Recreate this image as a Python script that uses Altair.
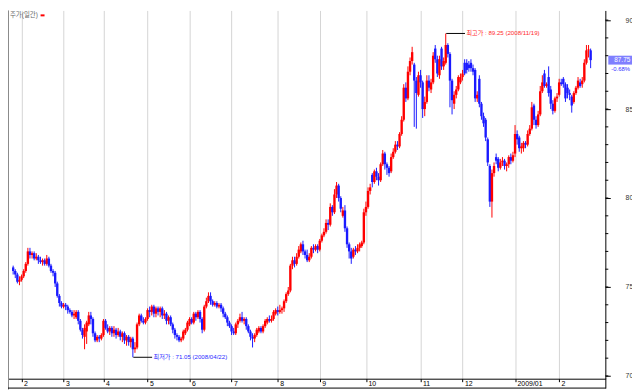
import altair as alt
import pandas as pd

# ---------------- data ----------------
day_idx = list(range(276))
opens = [
    76.1, 75.9, 75.7, 75.3, 75.4, 75.6, 75.9, 76.3, 77.0, 76.8,
    76.9, 76.6, 76.7, 76.5, 76.4, 76.5, 76.3, 76.6, 76.2, 75.9,
    75.8, 75.2, 74.5, 74.1, 73.9, 74.0, 73.9, 73.7, 73.6, 73.4,
    73.3, 73.6, 73.1, 72.6, 72.2, 72.5, 72.9, 73.4, 73.2, 72.4,
    72.0, 72.2, 72.1, 72.3, 73.1, 72.7, 72.5, 72.7, 72.4, 72.6,
    72.3, 72.5, 72.2, 72.4, 72.0, 72.2, 71.9, 72.1, 71.5, 71.6,
    72.9, 73.4, 73.1, 73.0, 73.2, 73.7, 73.6, 73.9, 73.5, 73.8,
    73.6, 73.8, 73.4, 73.5, 73.1, 73.3, 72.9, 72.6, 72.3, 72.2,
    72.0, 72.1, 72.4, 72.6, 72.9, 73.2, 73.0, 73.5, 73.3, 73.6,
    73.2, 72.6, 73.9, 74.2, 74.5, 74.2, 74.0, 74.1, 73.9, 74.0,
    73.8, 73.5, 73.3, 73.0, 72.8, 72.5, 72.4, 72.9, 73.1, 73.3,
    73.1, 73.2, 72.8, 72.5, 72.2, 72.1, 72.3, 72.5, 72.7, 72.5,
    72.8, 73.0, 73.2, 73.1, 73.2, 73.5, 73.7, 73.6, 73.7, 73.8,
    74.2, 74.6, 74.8, 76.2, 76.5, 76.3, 76.7, 77.0, 77.4, 77.0,
    76.8, 76.5, 76.7, 77.2, 77.1, 77.3, 77.1, 77.6, 77.9, 78.1,
    78.6, 78.5, 79.5, 79.2, 80.2, 80.7, 80.0, 79.0, 79.3, 78.3,
    77.4, 77.0, 76.7, 77.1, 77.0, 77.2, 77.3, 77.5, 79.2, 79.5,
    80.4, 81.3, 80.9, 81.5, 81.2, 81.0, 81.9, 82.5, 81.9, 81.7,
    81.5, 82.3, 82.6, 83.0, 82.9, 83.6, 84.4, 86.2, 85.6, 87.1,
    87.7, 87.5, 86.6, 85.8, 86.9, 86.5, 85.0, 85.4, 86.6, 86.1,
    86.5, 88.4, 87.8, 86.9, 88.4, 87.4, 87.6, 88.6, 88.1, 86.6,
    85.3, 85.8, 86.1, 86.5, 86.8, 87.6, 87.6, 87.5, 87.6, 87.3,
    87.2, 85.6, 86.7, 85.3, 84.6, 84.4, 83.3, 81.8, 79.8, 81.4,
    82.3, 82.2, 81.7, 82.0, 82.1, 81.8, 81.9, 82.3, 82.1, 82.5,
    83.6, 83.4, 82.8, 82.8, 83.1, 83.0, 83.6, 83.9, 85.2, 84.4,
    84.1, 84.7, 86.0, 87.0, 86.3, 86.8, 86.1, 85.3, 84.9, 85.6,
    85.8, 86.5, 86.7, 86.4, 86.2, 85.9, 85.7, 85.4, 85.9, 86.2,
    86.5, 86.4, 86.6, 87.6, 88.3, 88.3,
]
highs = [
    76.2, 76.0, 75.8, 75.6, 75.7, 76.0, 76.4, 77.2, 77.2, 77.0,
    77.0, 76.9, 76.8, 76.7, 76.6, 76.6, 76.8, 76.7, 76.3, 76.0,
    75.9, 75.3, 74.6, 74.2, 74.1, 74.1, 74.0, 73.8, 73.7, 73.7,
    73.7, 73.7, 73.2, 72.7, 72.9, 73.1, 73.6, 73.6, 73.3, 72.5,
    72.3, 72.3, 72.4, 73.2, 73.2, 72.9, 72.8, 72.8, 72.8, 72.7,
    72.7, 72.6, 72.5, 72.5, 72.3, 72.3, 72.2, 72.2, 71.9, 73.0,
    73.5, 73.5, 73.3, 73.3, 73.8, 73.9, 74.0, 74.0, 73.9, 73.9,
    73.9, 73.9, 73.7, 73.6, 73.4, 73.4, 73.0, 72.7, 72.4, 72.3,
    72.2, 72.6, 72.7, 73.1, 73.3, 73.3, 73.6, 73.6, 73.7, 73.7,
    73.3, 74.0, 74.4, 74.7, 74.7, 74.3, 74.2, 74.2, 74.1, 74.1,
    73.9, 73.6, 73.4, 73.1, 72.9, 72.7, 73.0, 73.2, 73.5, 73.6,
    73.3, 73.3, 72.9, 72.6, 72.4, 72.4, 72.7, 72.8, 72.8, 72.9,
    73.2, 73.3, 73.4, 73.4, 73.7, 73.8, 73.9, 74.0, 73.9, 74.3,
    74.7, 75.0, 76.3, 76.7, 76.7, 76.9, 77.3, 77.5, 77.6, 77.1,
    77.1, 76.9, 77.3, 77.4, 77.4, 77.4, 77.7, 78.0, 78.3, 78.8,
    78.8, 79.7, 79.6, 80.5, 80.9, 80.8, 80.1, 79.5, 79.6, 78.4,
    77.5, 77.2, 77.2, 77.3, 77.4, 77.5, 77.6, 79.4, 79.8, 80.6,
    80.8, 81.4, 81.6, 81.7, 81.4, 82.0, 82.7, 82.6, 82.0, 81.8,
    82.5, 82.8, 83.2, 83.2, 83.7, 84.6, 86.4, 86.5, 87.4, 87.9,
    88.5, 87.6, 86.8, 87.1, 87.2, 86.6, 85.7, 86.9, 86.9, 86.7,
    88.2, 88.6, 88.0, 88.0, 88.5, 87.9, 89.25, 88.7, 88.2, 86.7,
    86.0, 86.3, 86.9, 87.0, 87.2, 87.8, 87.8, 87.7, 87.8, 87.5,
    87.3, 86.0, 86.9, 85.4, 84.8, 84.5, 83.4, 81.9, 81.6, 82.0,
    82.5, 82.3, 82.2, 82.3, 82.2, 82.0, 82.4, 82.5, 82.6, 84.1,
    83.8, 83.5, 83.1, 83.2, 83.2, 83.8, 84.1, 85.4, 85.3, 84.6,
    84.9, 86.3, 86.9, 87.2, 86.5, 87.4, 86.3, 85.5, 85.7, 85.9,
    86.7, 86.7, 86.8, 86.5, 86.4, 86.1, 85.8, 86.0, 86.3, 86.8,
    86.7, 86.8, 87.8, 88.6, 88.6, 88.4,
]
lows = [
    75.7, 75.5, 75.2, 75.1, 75.3, 75.5, 75.8, 76.2, 76.6, 76.6,
    76.5, 76.5, 76.3, 76.3, 76.2, 76.2, 76.2, 76.1, 75.8, 75.6,
    75.0, 74.4, 73.9, 73.8, 73.8, 73.7, 73.5, 73.5, 73.3, 73.2,
    73.2, 72.9, 72.5, 72.1, 71.5, 71.8, 72.8, 72.9, 72.2, 71.9,
    71.9, 71.9, 72.0, 72.2, 72.6, 72.4, 72.3, 72.2, 72.2, 72.1,
    72.2, 72.0, 71.9, 71.8, 71.7, 71.7, 71.6, 71.05, 71.3, 71.5,
    72.8, 73.0, 72.9, 72.9, 73.1, 73.3, 73.4, 73.3, 73.3, 73.4,
    73.3, 73.2, 73.2, 72.9, 72.9, 72.8, 72.4, 72.1, 72.0, 71.9,
    71.9, 72.0, 72.3, 72.5, 72.8, 72.9, 72.9, 73.1, 73.2, 73.0,
    72.4, 72.5, 73.8, 74.1, 74.0, 73.9, 73.9, 73.8, 73.8, 73.6,
    73.3, 73.2, 72.8, 72.7, 72.3, 72.3, 72.3, 72.7, 73.0, 73.0,
    72.9, 72.6, 72.4, 72.0, 71.6, 71.9, 72.2, 72.4, 72.4, 72.4,
    72.7, 72.9, 73.0, 73.0, 73.1, 73.4, 73.4, 73.5, 73.5, 73.6,
    74.1, 74.5, 74.7, 76.0, 76.1, 76.2, 76.6, 76.9, 76.8, 76.6,
    76.4, 76.4, 76.6, 76.9, 77.0, 76.9, 77.0, 77.5, 77.8, 78.0,
    78.2, 78.4, 79.0, 79.1, 80.0, 79.8, 79.2, 78.9, 78.1, 77.2,
    76.6, 76.3, 76.6, 76.8, 76.9, 77.0, 77.2, 77.4, 79.0, 79.4,
    80.2, 80.6, 80.8, 81.0, 80.7, 80.9, 81.8, 81.6, 81.3, 81.2,
    81.4, 82.2, 82.5, 82.7, 82.8, 83.5, 84.3, 85.4, 85.5, 86.9,
    87.5, 84.0, 83.9, 85.7, 86.2, 84.5, 84.6, 85.3, 86.0, 85.9,
    86.4, 87.6, 86.8, 86.7, 87.2, 87.2, 87.5, 87.9, 85.1, 84.7,
    85.0, 85.6, 86.0, 86.4, 86.6, 86.9, 87.0, 87.1, 87.1, 86.9,
    85.4, 85.4, 85.1, 84.4, 84.0, 83.2, 81.8, 79.5, 78.9, 81.2,
    81.9, 81.5, 81.6, 81.8, 81.6, 81.5, 81.7, 81.9, 82.0, 82.3,
    83.0, 82.6, 82.5, 82.6, 82.8, 82.9, 83.5, 83.8, 84.1, 83.9,
    84.0, 84.6, 85.9, 86.2, 86.2, 85.7, 85.0, 84.7, 84.8, 85.4,
    85.7, 86.3, 86.2, 85.4, 85.6, 85.5, 84.8, 85.3, 85.8, 86.1,
    86.2, 86.2, 86.5, 87.5, 87.9, 87.3,
]
closes = [
    75.9, 75.7, 75.3, 75.4, 75.6, 75.9, 76.3, 77.0, 76.8, 76.9,
    76.6, 76.7, 76.5, 76.4, 76.5, 76.3, 76.6, 76.2, 75.9, 75.8,
    75.2, 74.5, 74.1, 73.9, 74.0, 73.9, 73.7, 73.6, 73.4, 73.5,
    73.6, 73.1, 72.6, 72.3, 72.7, 73.0, 73.4, 73.2, 72.4, 72.0,
    72.2, 72.1, 72.3, 73.1, 72.7, 72.5, 72.7, 72.4, 72.6, 72.3,
    72.5, 72.2, 72.4, 72.0, 72.2, 71.9, 72.1, 71.5, 71.6, 72.9,
    73.4, 73.1, 73.0, 73.2, 73.7, 73.6, 73.9, 73.5, 73.8, 73.6,
    73.8, 73.4, 73.5, 73.1, 73.3, 72.9, 72.6, 72.3, 72.2, 72.0,
    72.1, 72.5, 72.6, 73.0, 73.2, 73.0, 73.5, 73.3, 73.6, 73.2,
    72.6, 73.9, 74.2, 74.5, 74.2, 74.0, 74.1, 73.9, 74.0, 73.8,
    73.5, 73.3, 73.0, 72.8, 72.5, 72.4, 72.9, 73.1, 73.3, 73.1,
    73.2, 72.8, 72.5, 72.2, 72.1, 72.3, 72.6, 72.7, 72.5, 72.8,
    73.1, 73.2, 73.1, 73.2, 73.6, 73.7, 73.6, 73.7, 73.8, 74.2,
    74.6, 74.8, 76.2, 76.5, 76.3, 76.7, 77.1, 77.4, 77.0, 76.8,
    76.5, 76.7, 77.2, 77.1, 77.3, 77.1, 77.6, 77.9, 78.1, 78.6,
    78.5, 79.5, 79.2, 80.2, 80.7, 80.0, 79.4, 79.3, 78.3, 77.4,
    77.0, 76.6, 77.1, 77.0, 77.2, 77.4, 77.5, 79.2, 79.5, 80.4,
    80.6, 80.9, 81.5, 81.2, 81.0, 81.9, 82.5, 81.9, 81.7, 81.4,
    82.3, 82.6, 83.0, 82.9, 83.6, 84.4, 86.2, 85.6, 87.1, 87.7,
    88.2, 86.6, 85.9, 86.9, 86.5, 85.0, 85.4, 86.6, 86.2, 86.5,
    88.0, 87.8, 87.0, 87.8, 87.4, 87.7, 88.6, 88.1, 86.6, 85.5,
    85.8, 86.1, 86.8, 86.8, 87.0, 87.0, 87.2, 87.3, 87.3, 87.1,
    85.6, 85.8, 85.3, 84.6, 84.2, 83.4, 82.0, 79.8, 81.4, 81.8,
    82.1, 81.7, 82.0, 82.1, 81.8, 81.9, 82.3, 82.1, 82.4, 83.6,
    83.3, 82.8, 82.9, 83.1, 83.0, 83.6, 83.9, 85.1, 84.4, 84.1,
    84.7, 86.0, 86.5, 86.3, 86.4, 85.9, 85.3, 84.9, 85.6, 85.7,
    86.5, 86.4, 86.4, 85.6, 85.9, 85.8, 85.2, 85.9, 86.2, 86.6,
    86.3, 86.6, 87.6, 88.3, 88.35, 87.75,
]

month_idx = [4, 24, 43, 64, 84, 104, 126, 146, 168, 194, 214, 239, 260]
month_lbl = ["2", "3", "4", "5", "6", "7", "8", "9", "10", "11", "12", "2009/01", "2"]

y_major = [70, 75, 80, 85, 90]
y_minor = list(range(70, 91))

ann_idx = [206, 57]
ann_price = [89.25, 71.05]
ann_text = ["최고가 : 89.25 (2008/11/19)", "최저가 : 71.05 (2008/04/22)"]
ann_color = ["#ff2a2a", "#2a2aff"]

last_idx = [275]
last_price = [87.75]
last_text = ["87.75"]
last_pct = ["-0.68%"]

legend_label = ["주가(일간)"]

# ---------------- chart ----------------
FONT = "Liberation Sans, Noto Sans CJK KR, sans-serif"
W, H = 605, 373

df = pd.DataFrame({"i": day_idx, "o": opens, "h": highs, "l": lows, "c": closes})
df["dir"] = ["up" if c >= o else "down" for o, c in zip(opens, closes)]

xs = alt.Scale(domain=[-0.11, 279.65], nice=False, zero=False)
ys = alt.Scale(domain=[69.845, 90.544], nice=False, zero=False)

label_expr = "".join(f"datum.value == {v} ? '{t}' : " for v, t in zip(month_idx, month_lbl)) + "''"

ax_x = alt.Axis(values=month_idx, labelExpr=label_expr, title=None, grid=True,
                gridColor="#d4d4d4", gridWidth=1, tickSize=3, tickColor="#000",
                domainColor="#000", labelAlign="left", labelBaseline="middle",
                labelPadding=2, labelOffset=2, labelFontSize=7, labelColor="#000",
                labelFont=FONT, labelOverlap=False, labelFlush=False, labelBound=False)
ax_y = alt.Axis(orient="right", values=y_major, title=None, grid=False, tickSize=5,
                tickColor="#000", domainColor="#000", labelPadding=15, labelFontSize=7,
                labelColor="#333", labelFont=FONT, labelAlign="left", labelBaseline="middle",
                labelFlush=False, labelOverlap=False)

col = alt.Color("dir:N", scale=alt.Scale(domain=["up", "down"], range=["#ff0000", "#1a1aff"]), legend=None)

base = alt.Chart(df)
wick = base.mark_rule(strokeWidth=1).encode(
    x=alt.X("i:Q", scale=xs, axis=ax_x),
    y=alt.Y("l:Q", scale=ys, axis=ax_y),
    y2="h:Q",
    color=col,
)
body = base.mark_bar(size=2.4).encode(
    x=alt.X("i:Q", scale=xs, axis=ax_x),
    y=alt.Y("o:Q", scale=ys, axis=ax_y),
    y2="c:Q",
    color=col,
)

minor = alt.Chart(pd.DataFrame({"v": y_minor})).mark_rule(color="#000", strokeWidth=1).encode(
    y=alt.Y("v:Q", scale=ys, axis=ax_y),
    x=alt.value(W), x2=alt.value(W + 3),
)

ann = pd.DataFrame({"i": ann_idx, "p": ann_price, "t": ann_text, "col": ann_color})
ann_line = alt.Chart(ann).mark_rule(color="#000", strokeWidth=1, xOffset=0.5, x2Offset=19.5).encode(
    x=alt.X("i:Q", scale=xs, axis=ax_x), x2="i:Q",
    y=alt.Y("p:Q", scale=ys, axis=ax_y),
)
ann_txt = alt.Chart(ann).mark_text(align="left", baseline="middle", dx=21, fontSize=6.2, font=FONT).encode(
    x=alt.X("i:Q", scale=xs, axis=ax_x),
    y=alt.Y("p:Q", scale=ys, axis=ax_y),
    text="t:N",
    color=alt.Color("col:N", scale=None),
)

last = pd.DataFrame({"i": last_idx, "p": last_price, "t": last_text, "pct": last_pct})
box = alt.Chart(last).mark_rect(color="#7f7fff", yOffset=-4.5, y2Offset=4.5).encode(
    y=alt.Y("p:Q", scale=ys, axis=ax_y), y2="p:Q",
    x=alt.value(W + 3), x2=alt.value(W + 27),
)
box_txt = alt.Chart(last).mark_text(align="left", baseline="middle", fontSize=6.5, font=FONT, color="#ffffff").encode(
    y=alt.Y("p:Q", scale=ys, axis=ax_y), x=alt.value(W + 9), text="t:N",
)
pct_txt = alt.Chart(last).mark_text(align="left", baseline="middle", fontSize=6, font=FONT, color="#3030ff", dy=9).encode(
    y=alt.Y("p:Q", scale=ys, axis=ax_y), x=alt.value(W + 6), text="pct:N",
)

leg = pd.DataFrame({"t": legend_label})
leg_txt = alt.Chart(leg).mark_text(align="left", baseline="middle", fontSize=6.5, font=FONT, color="#666").encode(
    x=alt.value(2), y=alt.value(5), text="t:N",
)
leg_mark = alt.Chart(leg).mark_rule(color="#ff0000", strokeWidth=2).encode(
    x=alt.value(33), x2=alt.value(37), y=alt.value(5),
)

frame_df = pd.DataFrame({"a": [0]})
left_line = alt.Chart(frame_df).mark_rule(color="#888", strokeWidth=1).encode(
    x=alt.value(0.5), y=alt.value(0), y2=alt.value(384))
bottom_line = alt.Chart(frame_df).mark_rule(color="#000", strokeWidth=1).encode(
    x=alt.value(0), x2=alt.value(W + 0.5), y=alt.value(382.5))
right_strip = alt.Chart(frame_df).mark_rule(color="#000", strokeWidth=1).encode(
    x=alt.value(W + 0.5), y=alt.value(H), y2=alt.value(383))

chart = alt.layer(
    wick, body, minor, ann_line, ann_txt, box, box_txt, pct_txt,
    leg_txt, leg_mark, left_line, bottom_line, right_strip,
).properties(
    width=W, height=H,
    autosize=alt.AutoSizeParams(type="none"),
    padding={"left": 0, "top": 0, "right": 27, "bottom": 11},
    background="#ffffff",
).configure_view(stroke=None)

chart.save("out.html", embed_options={"renderer": "svg", "actions": False})
